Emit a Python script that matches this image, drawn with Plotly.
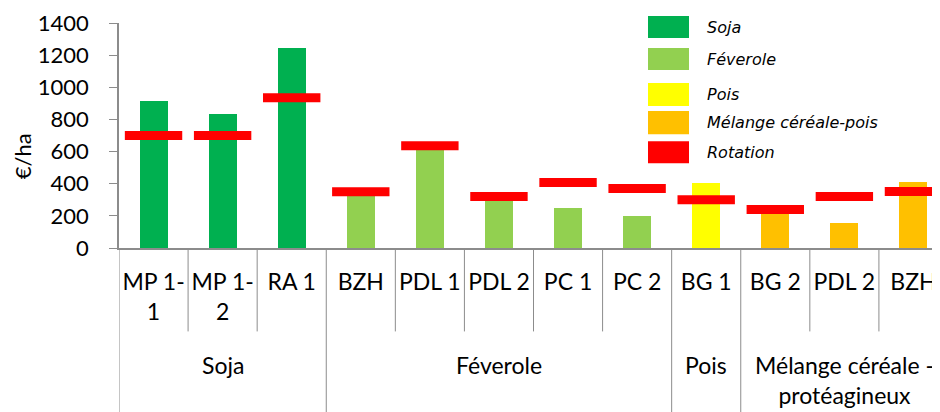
import plotly.graph_objects as go

# ---- data ----
categories = ["MP 1-1", "MP 1-2", "RA 1", "BZH", "PDL 1", "PDL 2", "PC 1", "PC 2",
              "BG 1", "BG 2", "PDL 2", "BZH"]
tick_labels = ["MP 1-<br>1", "MP 1-<br>2", "RA 1", "BZH", "PDL 1", "PDL 2", "PC 1", "PC 2",
               "BG 1", "BG 2", "PDL 2", "BZH"]
groups = ["Soja"] * 3 + ["Féverole"] * 5 + ["Pois"] + ["Mélange"] * 3
group_labels = {"Soja": "Soja", "Féverole": "Féverole", "Pois": "Pois",
                "Mélange": "Mélange céréale -<br>protéagineux"}
values = [913, 832, 1245, 330, 615, 295, 251, 197, 405, 225, 154, 409]
rotation = [700, 700, 935, 350, 636, 320, 407, 370, 301, 239, 320, 351]
y_ticks = [0, 200, 400, 600, 800, 1000, 1200, 1400]
legend_labels = ["Soja", "Féverole", "Pois", "Mélange céréale-pois", "Rotation"]

# ---- styles ----
colors = {"Soja": "#00B050", "Féverole": "#92D050", "Pois": "#FFFF00",
          "Mélange": "#FFC000", "Rotation": "#FF0000"}
legend_colors = [colors["Soja"], colors["Féverole"], colors["Pois"],
                 colors["Mélange"], colors["Rotation"]]
GRAY = "#8C8C8C"
FONT = "Lato"

OFF = 8  # page body margin
W, H = 940 - OFF, 412 - OFF
ML, MT = 119 - OFF, 23 - OFF
AXIS_Y = 247.7 - OFF
MB = H - AXIS_Y
PW, PH = W - ML, AXIS_Y - MT
x_pos = list(range(len(categories)))
x_max = len(categories) - 0.5 - 8 / 69.1


def xp(px):
    return (px - OFF - ML) / PW


def yp(py):
    return (AXIS_Y - (py - OFF)) / PH


fig = go.Figure()
fig.add_trace(go.Bar(
    x=x_pos, y=values, width=0.405,
    marker=dict(color=[colors[g] for g in groups], line=dict(width=0)),
    showlegend=False, hoverinfo="skip"))
fig.add_trace(go.Scatter(
    x=x_pos, y=rotation, mode="markers",
    marker=dict(symbol="line-ew", size=41, color=colors["Rotation"],
                line=dict(color=colors["Rotation"], width=9)),
    showlegend=False, hoverinfo="skip"))

shapes = []
annotations = []
# dividers under the axis
for i in range(len(categories) + 1):
    b = i - 0.5
    left = groups[i - 1] if i > 0 else None
    right = groups[i] if i < len(groups) else None
    is_group = left != right
    shapes.append(dict(type="line", xref="x", yref="paper", x0=b, x1=b,
                       y0=0, y1=yp(414) if is_group else yp(331),
                       line=dict(color=GRAY, width=1)))

# group labels
start = 0
for i in range(1, len(groups) + 1):
    if i == len(groups) or groups[i] != groups[start]:
        center = (start + i - 1) / 2
        annotations.append(dict(x=center, y=yp(349), xref="x", yref="paper",
                                text=group_labels[groups[start]], showarrow=False,
                                xanchor="center", yanchor="top",
                                font=dict(family=FONT, size=23, color="#000000")))
        start = i

# y title
annotations.append(dict(x=xp(22), y=yp(156), xref="paper", yref="paper",
                        text="€/ha", textangle=-90, showarrow=False,
                        xanchor="center", yanchor="middle",
                        font=dict(family=FONT, size=22, color="#000000")))

# legend (manual, large swatches)
sw_top = [16, 48, 83, 111, 141]
sw_bot = [38, 70, 106, 134, 163]
for lab, col, t, b in zip(legend_labels, legend_colors, sw_top, sw_bot):
    shapes.append(dict(type="rect", xref="paper", yref="paper",
                       x0=xp(648), x1=xp(689), y0=yp(b), y1=yp(t),
                       fillcolor=col, line=dict(width=0)))
    annotations.append(dict(x=xp(705), y=yp((t + b) / 2), xref="paper", yref="paper",
                            text="<i>" + lab + "</i>", showarrow=False,
                            xanchor="left", yanchor="middle",
                            font=dict(family="DejaVu Sans", size=16, color="#000000")))

fig.update_layout(
    width=W, height=H,
    margin=dict(l=ML, r=0, t=MT, b=MB, pad=0),
    plot_bgcolor="white", paper_bgcolor="white",
    shapes=shapes, annotations=annotations,
    bargap=0,
    xaxis=dict(range=[-0.5, x_max], tickvals=x_pos, ticktext=tick_labels,
               ticks="", showline=True, linecolor=GRAY, linewidth=1.5,
               showgrid=False, zeroline=False, ticklabelstandoff=13,
               tickfont=dict(family=FONT, size=23, color="#000000")),
    yaxis=dict(range=[0, 1400], tickvals=y_ticks, ticks="outside", ticklen=8,
               tickcolor=GRAY, tickwidth=1, showline=True, linecolor=GRAY,
               linewidth=1.5, showgrid=False, zeroline=False,
               ticklabelstandoff=16,
               tickfont=dict(family=FONT, size=22, color="#000000")),
)

fig.write_html("out.html")
